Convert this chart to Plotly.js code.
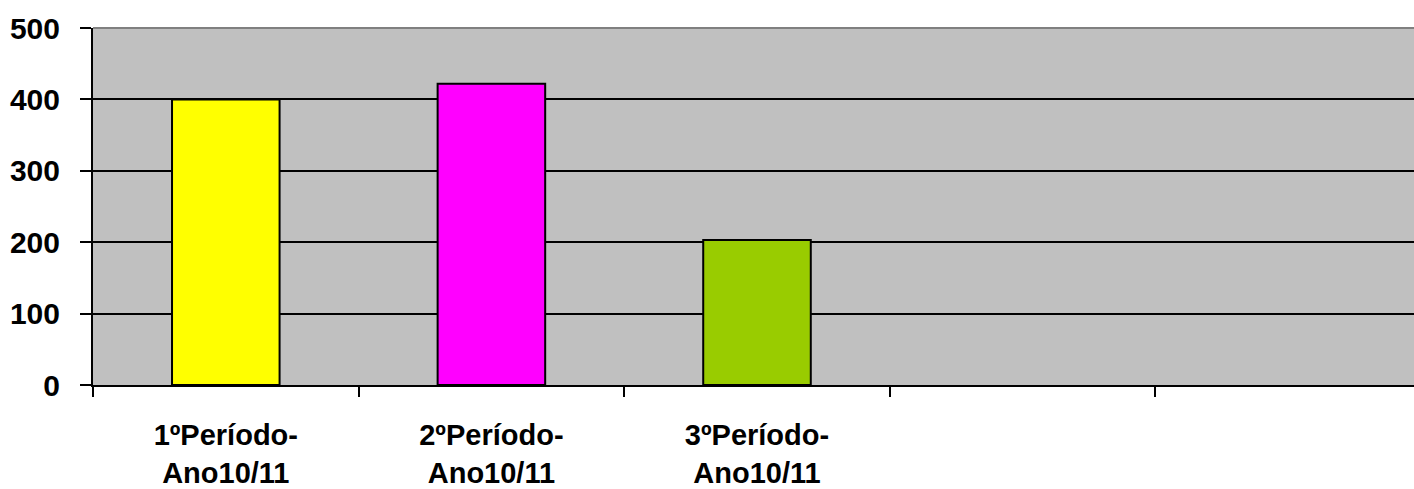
<!DOCTYPE html>
<html>
<head>
<meta charset="utf-8">
<script src="https://cdn.plot.ly/plotly-3.0.1.min.js"></script>
<style>
html,body{margin:0;padding:0;overflow:hidden;background:#fff;}
#chart{width:1421px;height:489px;}
</style>
</head>
<body>
<div id="chart"></div>
<script>
// Data
var categories = ["1ºPeríodo-<br>Ano10/11", "2ºPeríodo-<br>Ano10/11", "3ºPeríodo-<br>Ano10/11"];
var values = [400, 422, 203];
var barColors = ["#FFFF00", "#FF00FF", "#99CC00"];
var slotCount = 5;
var yTicks = [0, 100, 200, 300, 400, 500];

var xpos = categories.map(function(_, i){ return i; });
var boundaries = [];
for (var k = 0; k <= slotCount; k++) boundaries.push(k - 0.5);

var font = {family: "Arial, 'Liberation Sans', sans-serif", color: "#000", weight: "bold"};

var trace = {
  type: "bar",
  x: xpos,
  y: values,
  width: 0.405,
  marker: {color: barColors, line: {color: "#000", width: 2}},
  hoverinfo: "skip"
};

var layout = {
  width: 1421,
  height: 489,
  margin: {l: 93, r: 0, t: 28, b: 104},
  paper_bgcolor: "#FFFFFF",
  plot_bgcolor: "#C0C0C0",
  showlegend: false,
  bargap: 0,
  xaxis: {
    range: [-0.5, slotCount - 0.5],
    tickmode: "array",
    tickvals: xpos,
    ticktext: categories,
    ticks: "",
    ticklen: 0,
    showgrid: false,
    zeroline: false,
    showline: true,
    linecolor: "#000",
    linewidth: 2,
    ticklabelstandoff: 23,
    tickfont: Object.assign({size: 29}, font),
    minor: {
      tickmode: "array",
      tickvals: boundaries,
      ticks: "outside",
      ticklen: 10,
      tickwidth: 2,
      tickcolor: "#000",
      showgrid: false
    },
    fixedrange: true
  },
  yaxis: {
    range: [0, 500],
    tickmode: "array",
    tickvals: yTicks,
    ticks: "outside",
    ticklen: 11,
    tickwidth: 2,
    tickcolor: "#000",
    showgrid: true,
    gridcolor: "#000",
    gridwidth: 2,
    zeroline: false,
    showline: true,
    linecolor: "#000",
    linewidth: 2,
    ticklabelstandoff: 14,
    tickfont: Object.assign({size: 30}, font),
    fixedrange: true
  },
  shapes: [{
    type: "line", xref: "paper", yref: "paper",
    x0: 0, x1: 1, y0: 1, y1: 1,
    line: {color: "#808080", width: 2},
    layer: "above"
  }]
};

Plotly.newPlot("chart", [trace], layout, {displayModeBar: false, staticPlot: true});
</script>
</body>
</html>
